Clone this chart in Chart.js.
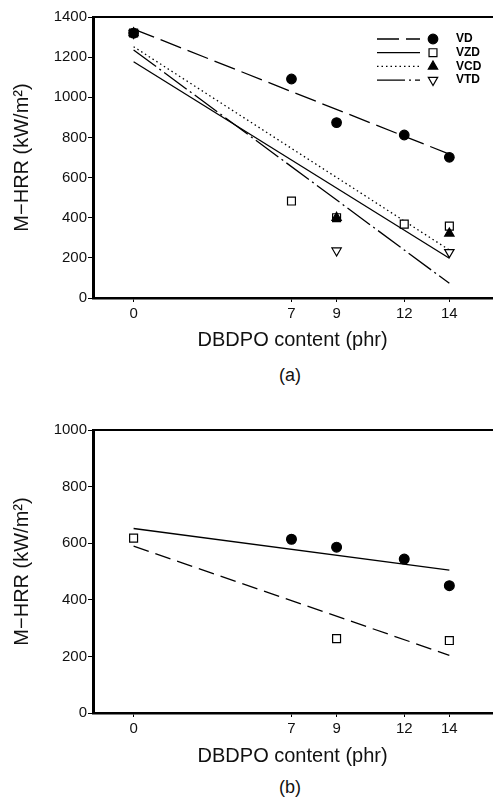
<!DOCTYPE html>
<html>
<head>
<meta charset="utf-8">
<script src="https://cdn.jsdelivr.net/npm/chart.js@4/dist/chart.umd.min.js"></script>
<style>
  html, body { margin: 0; padding: 0; overflow: hidden; }
  body { background: #fff; width: 494px; height: 800px; position: relative; }
  canvas { position: absolute; left: 0; }
  .cap { position: absolute; left: 0; width: 580px; text-align: center; font: 18px "Liberation Sans", Arial, sans-serif; color: #111; }
</style>
</head>
<body>
<!-- canvases are 5px wider than the page: chart.js keeps a 5px right gap, which is clipped off -->
<canvas id="chartA" width="499" height="360" style="top:0"></canvas>
<div class="cap" style="top:365px">(a)</div>
<canvas id="chartB" width="499" height="370" style="top:400px"></canvas>
<div class="cap" style="top:777px">(b)</div>
<script>
// x positions shared by both panels
const contents = [0, 7, 9, 12, 14];
const fitEnds = [0, 14];

// panel (a)
const labelsA = ['VD', 'VZD', 'VCD', 'VTD'];
const vd  = [1320, 1091, 874, 812, 701];
const vzd = [1320, 483, 400, 368, 358];
const vcd = [1320, null, 400, null, 322];
const vtd = [1320, null, 236, null, 228];
const vdFit  = [1340, 717];
const vzdFit = [1177, 198];
const vcdFit = [1252, 239];
const vtdFit = [1236, 73];
const yTicksA = [0, 1400, 200];

// panel (b)
const labelsB = ['RD', 'RZD'];
const rd  = [null, 614, 586, 544, 450];
const rzd = [618, null, 263, null, 256];
const rdFit  = [652, 505];
const rzdFit = [590, 204];
const yTicksB = [0, 1000, 200];

Chart.defaults.font.family = '"Liberation Sans", Arial, sans-serif';
Chart.defaults.color = '#111';

function pts(vals, xs) {
  return xs.map((x, i) => ({x: x, y: vals[i]})).filter(p => p.y !== null);
}

function markers(label, vals, style, fill, r, rot) {
  return {
    label: label, data: pts(vals, contents), showLine: false,
    pointStyle: style, pointRadius: r, pointRotation: rot || 0,
    pointBackgroundColor: fill, pointBorderColor: '#000', pointBorderWidth: 1.2
  };
}

function fitLine(label, vals, dash) {
  return {
    label: label + ' fit', data: pts(vals, fitEnds), showLine: true,
    borderColor: '#000', borderWidth: 1.3, borderDash: dash,
    pointRadius: 0, fill: false
  };
}

const pairLegend = {
  id: 'pairLegend',
  afterDatasetsDraw(chart, args, o) {
    const ctx = chart.ctx;
    o.labels.forEach((label, i) => {
      const y = o.y + i * o.rowGap;
      const line = chart.data.datasets.find(d => d.label === label + ' fit');
      const mk = chart.data.datasets.find(d => d.label === label);
      ctx.save();
      ctx.strokeStyle = '#000';
      ctx.lineWidth = line.borderWidth;
      ctx.setLineDash(line.borderDash || []);
      ctx.beginPath();
      ctx.moveTo(o.lineStart, y);
      ctx.lineTo(o.lineEnd, y);
      ctx.stroke();
      ctx.setLineDash([]);
      ctx.fillStyle = mk.pointBackgroundColor;
      ctx.strokeStyle = '#000';
      ctx.lineWidth = mk.pointBorderWidth;
      Chart.helpers.drawPoint(ctx, {
        pointStyle: mk.pointStyle, radius: o.markerRadius || mk.pointRadius,
        rotation: mk.pointRotation, borderWidth: mk.pointBorderWidth
      }, o.markerX, y);
      ctx.fillStyle = '#000';
      ctx.font = o.font;
      ctx.textBaseline = 'middle';
      ctx.fillText(label, o.textX, y);
      ctx.restore();
    });
  }
};

function noPad(s) { s.paddingLeft = 0; s.paddingRight = 0; }

function makeChart(id, datasets, yt, padTop, xHeight, titlePad, legend) {
  return new Chart(document.getElementById(id), {
    type: 'scatter',
    data: {datasets: datasets},
    plugins: [pairLegend],
    options: {
      responsive: false,
      animation: false,
      layout: {padding: {top: padTop, right: 0, left: 0, bottom: 0}},
      plugins: {legend: {display: false}, tooltip: {enabled: false}, pairLegend: legend},
      scales: {
        x: {
          type: 'linear', min: -1.8, max: 15.9,
          afterBuildTicks: s => { s.ticks = contents.map(v => ({value: v})); },
          afterFit: s => { s.height = xHeight; noPad(s); },
          grid: {display: true, drawOnChartArea: false, tickLength: 4, color: '#000'},
          border: {display: true, width: 2.5, color: '#000'},
          ticks: {font: {size: 15}, padding: 3, maxRotation: 0, callback: v => v},
          title: {display: true, text: 'DBDPO content (phr)', font: {size: 20}, padding: {bottom: titlePad}}
        },
        x2: {
          type: 'linear', position: 'top', min: -1.8, max: 15.9,
          afterFit: s => { s.height = 0; noPad(s); },
          grid: {display: false},
          ticks: {display: false},
          border: {display: true, width: 2, color: '#000'}
        },
        y: {
          min: yt[0], max: yt[1],
          afterFit: s => { s.width = 93; },
          grid: {display: true, drawOnChartArea: false, tickLength: 5, color: '#000'},
          border: {display: true, width: 3, color: '#000'},
          ticks: {stepSize: yt[2], font: {size: 15}, padding: 1, callback: v => v},
          title: {display: true, text: 'M\u2212HRR (kW/m\u00B2)', font: {size: 20}, padding: {top: 10}}
        }
      }
    }
  });
}

makeChart('chartA', [
  markers('VD', vd, 'circle', '#000', 4.8),
  markers('VCD', vcd, 'triangle', '#000', 5.4),
  markers('VZD', vzd, 'rect', '#fff', 5.6),
  markers('VTD', vtd, 'triangle', '#fff', 5.4, 180),
  fitLine('VD', vdFit, [22, 7]),
  fitLine('VZD', vzdFit, []),
  fitLine('VCD', vcdFit, [1.5, 3]),
  fitLine('VTD', vtdFit, [28, 4, 2, 4])
], yTicksA, 17, 62, 8, {
  labels: labelsA, y: 39, rowGap: 13.7, lineStart: 377, lineEnd: 420,
  markerX: 433, textX: 456, font: 'bold 12px "Liberation Sans", Arial, sans-serif'
});

makeChart('chartB', [
  markers('RD', rd, 'circle', '#000', 4.9),
  markers('RZD', rzd, 'rect', '#fff', 5.6),
  fitLine('RD', rdFit, []),
  fitLine('RZD', rzdFit, [16, 7])
], yTicksB, 30, 57, 2, {
  labels: labelsB, y: 474, rowGap: 25, lineStart: 380, lineEnd: 422,
  markerX: 433, textX: 446, font: 'bold 12px "Liberation Sans", Arial, sans-serif'
});
</script>
</body>
</html>
